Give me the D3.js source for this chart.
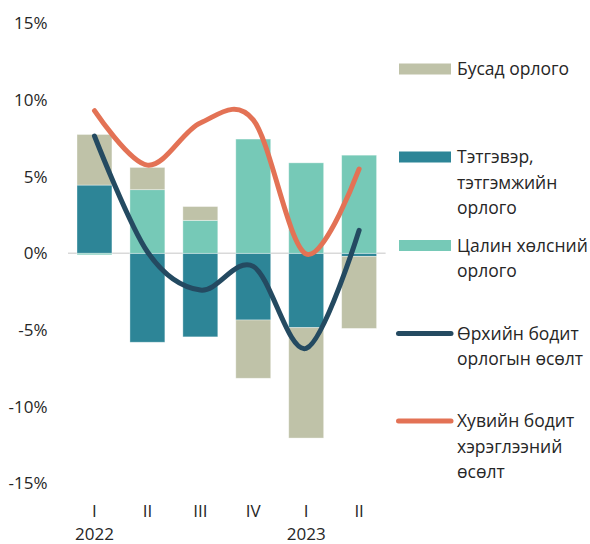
<!DOCTYPE html>
<html>
<head>
<meta charset="utf-8">
<script src="https://cdn.jsdelivr.net/npm/d3@7"></script>
<style>
  body { margin: 0; background: #fff; }
  text { font-family: "Open Sans", "Noto Sans", sans-serif; fill: #262626; }
</style>
</head>
<body>
<div id="chart"></div>
<script>
// quarters and years
var quarters = ["I", "II", "III", "IV", "I", "II"];
var years = ["2022", "", "", "", "2023", ""];

// bar components, %
var tetgever = [4.45, -5.8, -5.45, -4.35, -4.85, -0.2];
var tsalin = [-0.1, 4.15, 2.15, 7.45, 5.9, 6.4];
var busad = [3.3, 1.45, 0.9, -3.8, -7.2, -4.7];

// lines, %
var orlogo = [7.65, 0.1, -2.4, -0.85, -6.2, 1.5];
var heregleee = [9.3, 5.75, 8.5, 8.7, -0.05, 5.5];

var yTicks = [15, 10, 5, 0, -5, -10, -15];

var colors = {
  busad: "#bfc2a8",
  tetgever: "#2d8597",
  tsalin: "#76c9b7",
  orlogo: "#244a61",
  heregleee: "#e37255"
};

var width = 590, height = 544;

var svg = d3.select("#chart").append("svg")
  .attr("width", width)
  .attr("height", height);

var x = d3.scaleBand()
  .domain(d3.range(quarters.length))
  .range([68, 385.6])
  .paddingInner(0.34)
  .paddingOuter(0.17);

var y = d3.scaleLinear()
  .domain([-15, 15])
  .range([483.3, 23.3]);

// y axis labels
svg.selectAll(".ylab")
  .data(yTicks)
  .enter()
  .append("text")
  .attr("x", 47.5)
  .attr("y", function (d) { return y(d); })
  .attr("dy", "0.35em")
  .attr("text-anchor", "end")
  .attr("font-size", 17)
  .text(function (d) { return d + "%"; });

// zero line
svg.append("line")
  .attr("x1", 68).attr("x2", 385.6)
  .attr("y1", y(0)).attr("y2", y(0))
  .attr("stroke", "#d9d9d9")
  .attr("stroke-width", 1.5);

// stacked bars
var table = quarters.map(function (q, i) {
  return { i: i, tetgever: tetgever[i], tsalin: tsalin[i], busad: busad[i] };
});

var stack = d3.stack()
  .keys(["tetgever", "tsalin", "busad"])
  .offset(d3.stackOffsetDiverging);

var layers = svg.selectAll(".layer")
  .data(stack(table))
  .enter()
  .append("g")
  .attr("fill", function (d) { return colors[d.key]; });

layers.selectAll("rect")
  .data(function (d) { return d; })
  .enter()
  .append("rect")
  .attr("x", function (d) { return x(d.data.i); })
  .attr("width", x.bandwidth())
  .attr("y", function (d) { return y(Math.max(d[0], d[1])); })
  .attr("height", function (d) { return Math.abs(y(d[0]) - y(d[1])); })
  .attr("stroke", "rgba(255,255,255,0.45)")
  .attr("stroke-width", 0.8);

// smooth lines
var line = d3.line()
  .x(function (d, i) { return x(i) + x.bandwidth() / 2; })
  .y(function (d) { return y(d); })
  .curve(d3.curveCatmullRom.alpha(0));

[["heregleee", heregleee], ["orlogo", orlogo]].forEach(function (s) {
  svg.append("path")
    .attr("d", line(s[1]))
    .attr("fill", "none")
    .attr("stroke", colors[s[0]])
    .attr("stroke-width", 5)
    .attr("stroke-linecap", "round");
});

// x labels
svg.selectAll(".qlab")
  .data(quarters)
  .enter()
  .append("text")
  .attr("x", function (d, i) { return x(i) + x.bandwidth() / 2; })
  .attr("y", 517)
  .attr("text-anchor", "middle")
  .attr("font-size", 17)
  .text(function (d) { return d; });

svg.selectAll(".yearlab")
  .data(years)
  .enter()
  .append("text")
  .attr("x", function (d, i) { return x(i) + x.bandwidth() / 2; })
  .attr("y", 539.5)
  .attr("text-anchor", "middle")
  .attr("font-size", 17)
  .text(function (d) { return d; });

// legend
var legend = [
  { key: "busad", type: "rect", y: 69, lines: ["Бусад орлого"] },
  { key: "tetgever", type: "rect", y: 157, lines: ["Тэтгэвэр,", "тэтгэмжийн", "орлого"] },
  { key: "tsalin", type: "rect", y: 245.5, lines: ["Цалин хөлсний", "орлого"] },
  { key: "orlogo", type: "line", y: 333.5, lines: ["Өрхийн бодит", "орлогын өсөлт"] },
  { key: "heregleee", type: "line", y: 421, lines: ["Хувийн бодит", "хэрэглээний", "өсөлт"] }
];

var lg = svg.selectAll(".lg")
  .data(legend)
  .enter()
  .append("g")
  .attr("transform", function (d) { return "translate(0," + d.y + ")"; });

lg.filter(function (d) { return d.type === "rect"; })
  .append("rect")
  .attr("x", 399).attr("y", -5.5)
  .attr("width", 52).attr("height", 11)
  .attr("fill", function (d) { return colors[d.key]; });

lg.filter(function (d) { return d.type === "line"; })
  .append("line")
  .attr("x1", 398.5).attr("x2", 451)
  .attr("stroke", function (d) { return colors[d.key]; })
  .attr("stroke-width", 5)
  .attr("stroke-linecap", "round");

lg.append("text")
  .attr("x", 457)
  .attr("font-size", 17.5)
  .selectAll("tspan")
  .data(function (d) { return d.lines; })
  .enter()
  .append("tspan")
  .attr("x", 457)
  .attr("y", function (d, i) { return i * 25.5; })
  .attr("dy", "0.35em")
  .text(function (d) { return d; });
</script>
</body>
</html>
